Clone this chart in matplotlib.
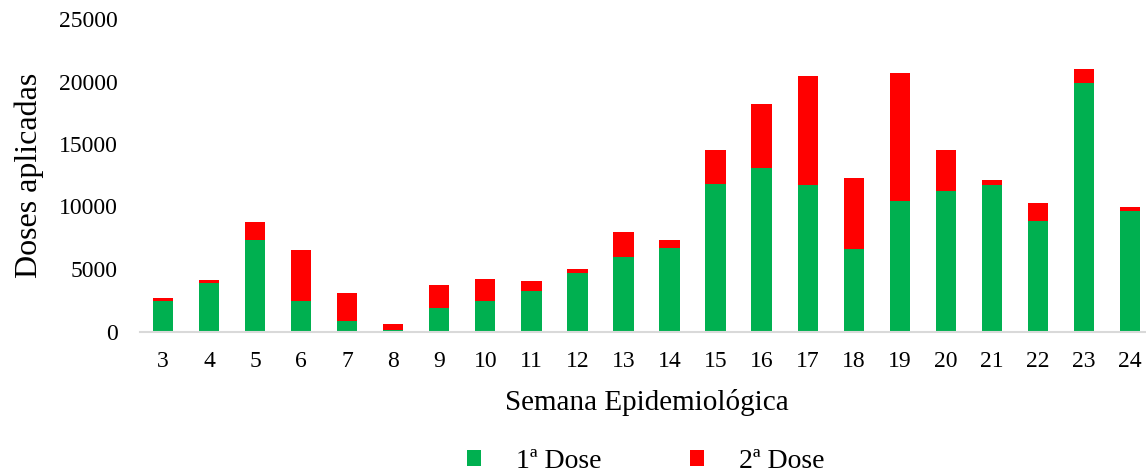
import matplotlib
matplotlib.use("Agg")
import matplotlib.pyplot as plt
import numpy as np

weeks = [3, 4, 5, 6, 7, 8, 9, 10, 11, 12, 13, 14, 15, 16, 17, 18, 19, 20, 21, 22, 23, 24]
dose1 = [2460, 3900, 7300, 2460, 840, 120, 1850, 2410, 3235, 4670, 5950, 6695,
         11835, 13085, 11700, 6590, 10450, 11220, 11725, 8825, 19850, 9680]
total = [2650, 4090, 8750, 6485, 3075, 600, 3740, 4190, 4030, 4990, 7950, 7310,
         14520, 18225, 20460, 12315, 20645, 14520, 12125, 10265, 21020, 9970]
dose2 = [t - a for t, a in zip(total, dose1)]
y_ticks = [0, 5000, 10000, 15000, 20000, 25000]

plt.rcParams['font.family'] = ['Liberation Serif', 'DejaVu Serif']

fig = plt.figure(figsize=(11.46, 4.72), dpi=100)
W, H = 1146, 472
left, right = 140 / W, 1153 / W
bottom, top = 1 - 331.5 / H, 1 - 19 / H
ax = fig.add_axes([left, bottom, right - left, top - bottom])

x = np.arange(len(weeks))
green = '#00B050'
red = '#FF0000'
ax.bar(x, dose1, width=0.44, color=green, label='1ª Dose')
ax.bar(x, dose2, width=0.44, bottom=dose1, color=red, label='2ª Dose')

ax.set_xlim(-0.5, len(weeks) - 0.5)
ax.set_ylim(0, 25000)
ax.set_yticks(y_ticks)
ax.set_yticklabels([str(v) for v in y_ticks], fontsize=17)
ax.set_xticks(x)
ax.set_xticklabels([str(w) for w in weeks], fontsize=17)
ax.tick_params(length=0)
ax.tick_params(axis='y', pad=16)
ax.tick_params(axis='x', pad=14)

for s in ['top', 'right', 'left']:
    ax.spines[s].set_visible(False)
ax.spines['bottom'].set_color('#d9d9d9')
ax.spines['bottom'].set_linewidth(1.5)

ax.set_xlabel('Semana Epidemiológica', fontsize=21, labelpad=12)
ax.set_ylabel('Doses aplicadas', fontsize=23, labelpad=11)

fig.legend(loc='center', bbox_to_anchor=(646 / W, 1 - 461 / H), ncol=2,
           frameon=False, fontsize=20, handlelength=0.5, handleheight=0.5,
           columnspacing=3.2, handletextpad=1.25)

fig.savefig('out.png', dpi=100)
